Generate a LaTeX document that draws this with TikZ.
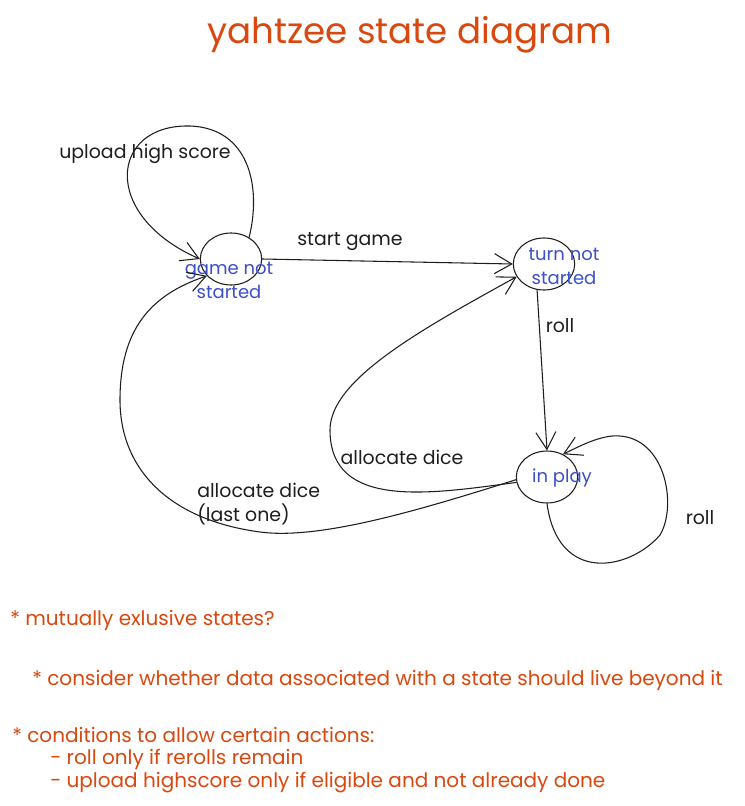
\documentclass[tikz,border=0pt]{standalone}
\usepackage{fontspec}
\setmainfont{Poppins}
\usetikzlibrary{arrows.meta,shapes.geometric}
\definecolor{inkc}{HTML}{1E1E1E}
\definecolor{bluec}{HTML}{3B4FCB}
\definecolor{orangec}{HTML}{D9480F}
\tikzset{
  state/.style={ellipse, draw=inkc, line width=0.8pt, minimum width=46pt, minimum height=39pt, inner sep=0pt},
  statetext/.style={text=bluec, font=\fontsize{13.5}{18}\selectfont, align=center, inner sep=0pt},
  edge/.style={draw=inkc, line width=0.8pt, -{Straight Barb[length=13pt,width=15pt,line width=0.8pt]}},
  lbl/.style={text=inkc, font=\fontsize{14.2}{18}\selectfont, inner sep=0pt},
  note/.style={text=orangec, font=\fontsize{15}{18}\selectfont, anchor=west, inner sep=0pt},
}
\begin{document}
\begin{tikzpicture}[x=0.75pt,y=-0.75pt]
\path[use as bounding box, fill=white] (0,0) rectangle (744,806);

\node[text=orangec, font=\fontsize{26.7}{30}\selectfont, inner sep=0pt] (title) at (410,35) {yahtzee state diagram};

% states
\node[state] (g) at (231,259) {};
\node[state] (t) at (544,264) {};
\node[state] (p) at (547,477) {};
\node[statetext] (gt) at (229,280) {game not\\started};
\node[statetext] (tt) at (564,266) {turn not\\started};
\node[statetext] (pt) at (562,478) {in play};

% edges
\draw[edge] (g.50) .. controls (262,185) and (248,128) .. (190,126)
  .. controls (110,124) and (100,215) .. (g.west);
\draw[edge] (g.east) -- (t.west);
\draw[edge] (t.255) -- (p.north);
\draw[edge] (p.south) .. controls (558,585) and (630,570) .. (660,535)
  .. controls (678,505) and (665,432) .. (612,436)
  .. controls (595,438) and (580,446) .. (p.55);
\draw[edge] (p.190) .. controls (430,494) and (330,510) .. (330,430)
  .. controls (330,380) and (420,330) .. (t.205);
\draw[edge] (p.185) .. controls (420,510) and (320,540) .. (260,532)
  .. controls (170,520) and (120,470) .. (120,400)
  .. controls (120,330) and (150,295) .. (g.215);

% edge labels
\node[lbl] (l1) at (145,154) {upload high score};
\node[lbl] (l2) at (350,242) {start game};
\node[lbl] (l3) at (560,326) {roll};
\node[lbl] (l4) at (402,457) {allocate dice};
\node[lbl, anchor=north west, align=left] (l5) at (197,483) {allocate dice\\(last one)};
\node[lbl] (l6) at (700,518) {roll};

% notes
\node[note] (n1) at (10,620) {* mutually exlusive states?};
\node[note] (n2) at (32,680) {* consider whether data associated with a state should live beyond it};
\node[note] (n3) at (12,735) {* conditions to allow certain actions:};
\node[note] (n4) at (50,759) {- roll only if rerolls remain};
\node[note] (n5) at (50,783) {- upload highscore only if eligible and not already done};
\end{tikzpicture}
\end{document}
